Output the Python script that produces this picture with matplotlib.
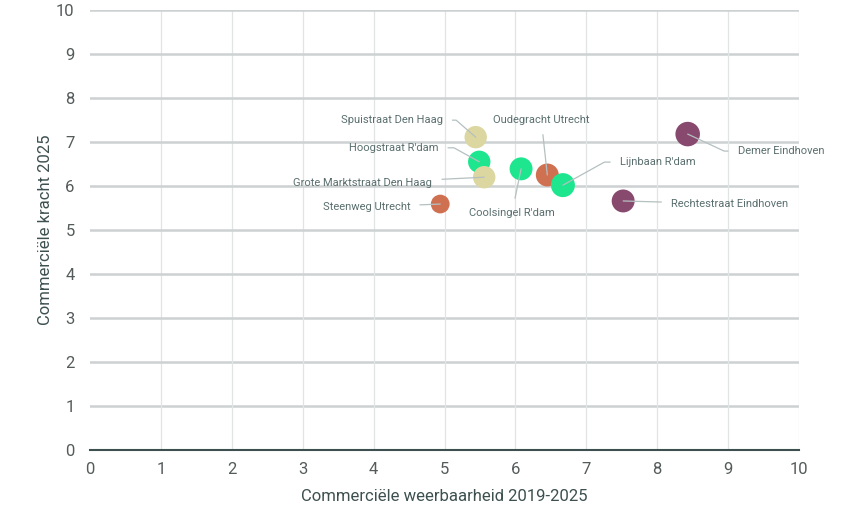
import matplotlib
matplotlib.use("Agg")
import matplotlib.pyplot as plt

plt.rcParams['font.family'] = ['Roboto', 'DejaVu Sans']

names = ["Spuistraat Den Haag", "Hoogstraat R'dam", "Grote Marktstraat Den Haag",
         "Coolsingel R'dam", "Oudegracht Utrecht", "Lijnbaan R'dam",
         "Steenweg Utrecht", "Demer Eindhoven", "Rechtestraat Eindhoven"]
weerbaarheid = [5.44, 5.49, 5.56, 6.08, 6.45, 6.67, 4.94, 8.43, 7.52]
kracht = [7.11, 6.55, 6.20, 6.39, 6.25, 6.02, 5.59, 7.18, 5.66]
groups = ["Den Haag", "Rotterdam", "Den Haag", "Rotterdam", "Utrecht", "Rotterdam",
          "Utrecht", "Eindhoven", "Eindhoven"]
sizes = [100, 100, 100, 105, 105, 115, 70, 120, 105]
ticks = list(range(0, 11))

colors = {"Den Haag": "#dcd6a0", "Rotterdam": "#1de68f", "Utrecht": "#cf7050", "Eindhoven": "#874a6e"}

# label offsets in pixels (text anchor relative to point), alignment, elbow angle at point
label_cfg = [
    (-33, 17, 'right', 139),
    (-41, 14, 'right', 151),
    (-52, -6, 'right', None),
    (-9, -44, 'center', None),
    (-6, 55, 'center', None),
    (57, 23, 'left', 29),
    (-30, -3, 'right', None),
    (50, -17, 'left', -25),
    (48, -3, 'left', None),
]

fig = plt.figure(figsize=(8.52, 5.12), dpi=100)
ax = fig.add_axes([90/852, 1-450/512, (799-90)/852, 440/512])
ax.set_xlim(0, 10)
ax.set_ylim(0, 10)
ax.set_xticks(ticks)
ax.set_yticks(ticks)
ax.set_axisbelow(True)

for t in ticks:
    if t > 0:
        ax.axhline(t, color='#cdd1d1', lw=1.8, zorder=0)
        ax.axvline(t, color='#e0e4e4', lw=0.9, zorder=0)

for s in ['top', 'right', 'left']:
    ax.spines[s].set_visible(False)
ax.spines['bottom'].set_color('#3d4f4f')
ax.spines['bottom'].set_linewidth(1.5)
ax.tick_params(length=0, labelsize=12, colors='#555b5b', pad=9)
ax.tick_params(axis='y', pad=11)

for i, n in enumerate(names):
    ax.scatter(weerbaarheid[i], kracht[i], s=sizes[i]*2.6, color=colors[groups[i]],
               edgecolors='none', zorder=3)

for i, n in enumerate(names):
    dx, dy, ha, elbow = label_cfg[i]
    if elbow is None:
        cs = "arc3"
    else:
        cs = f"angle,angleA=0,angleB={elbow},rad=0"
    ax.annotate(n, (weerbaarheid[i], kracht[i]), xytext=(dx, dy), textcoords='offset pixels',
                ha=ha, va='center', fontsize=8, color='#5a6e6e', zorder=5,
                arrowprops=dict(arrowstyle='-', color='#b5c0c0', lw=0.9, shrinkA=5, shrinkB=0,
                                connectionstyle=cs))

ax.set_xlabel('Commerciële weerbaarheid 2019-2025', fontsize=12, color='#3d4f4f', labelpad=8)
ax.set_ylabel('Commerciële kracht 2025', fontsize=12, color='#3d4f4f', labelpad=2)

fig.savefig('out.png', dpi=100)
